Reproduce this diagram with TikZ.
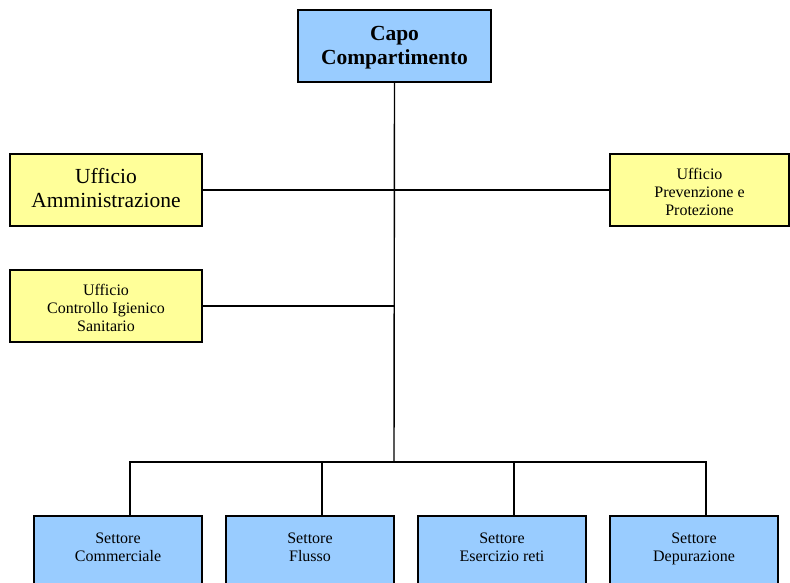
\documentclass[tikz,border=0pt]{standalone}
\usepackage{fontspec}
\setmainfont{Liberation Serif}

\definecolor{capoblue}{RGB}{153,204,255}
\definecolor{uffyellow}{RGB}{255,255,153}

\tikzset{
    unit/.style={draw=black, line width=1.4pt, align=center, inner sep=0pt},
    capobox/.style={unit, fill=capoblue, minimum width=193pt, minimum height=72pt,
        text depth=1.5pt, font=\fontsize{21.5}{24}\selectfont\bfseries},
    uffbig/.style={unit, fill=uffyellow, minimum width=192pt, minimum height=72pt,
        text depth=4pt, font=\fontsize{21.5}{23.5}\selectfont},
    uffsmall/.style={unit, fill=uffyellow, minimum height=72pt,
        text height=51pt, font=\fontsize{16}{18}\selectfont},
    settbox/.style={unit, fill=capoblue, minimum width=168pt, minimum height=72pt,
        text depth=10pt, font=\fontsize{16}{18}\selectfont},
    link/.style={line width=1.4pt}
}

\begin{document}
\begin{tikzpicture}[x=1pt,y=-1pt]

    \useasboundingbox (0,0) rectangle (790,582);
    %\draw (0,0) rectangle (790,582);

    \node[capobox] (capo) at (394.5,46) {Capo\\Compartimento};

    \node[uffbig] (amm) at (106,190) {Ufficio\\Amministrazione};
    \node[uffsmall, minimum width=179pt] (prev) at (699.5,190) {Ufficio\\Prevenzione e\\Protezione};
    \node[uffsmall, minimum width=192pt] (ctrl) at (106,306) {Ufficio\\Controllo Igienico\\Sanitario};

    \node[settbox] (s1) at (118,552) {Settore\\Commerciale};
    \node[settbox] (s2) at (310,552) {Settore\\Flusso};
    \node[settbox] (s3) at (502,552) {Settore\\Esercizio reti};
    \node[settbox] (s4) at (694,552) {Settore\\Depurazione};

    \coordinate (bus) at (394,462);

    \draw[link] (capo.south) -- (bus);
    \draw[link] (amm.east) -- (prev.west);
    \draw[link] (ctrl.east) -- (ctrl.east -| bus);

    \draw[link] ([xshift=12pt]s1.north) |- (bus) -| ([xshift=12pt]s4.north);
    \foreach \s in {s2,s3}
        \draw[link] ([xshift=12pt]\s.north) -- ([xshift=12pt]\s.north |- bus);

\end{tikzpicture}
\end{document}
